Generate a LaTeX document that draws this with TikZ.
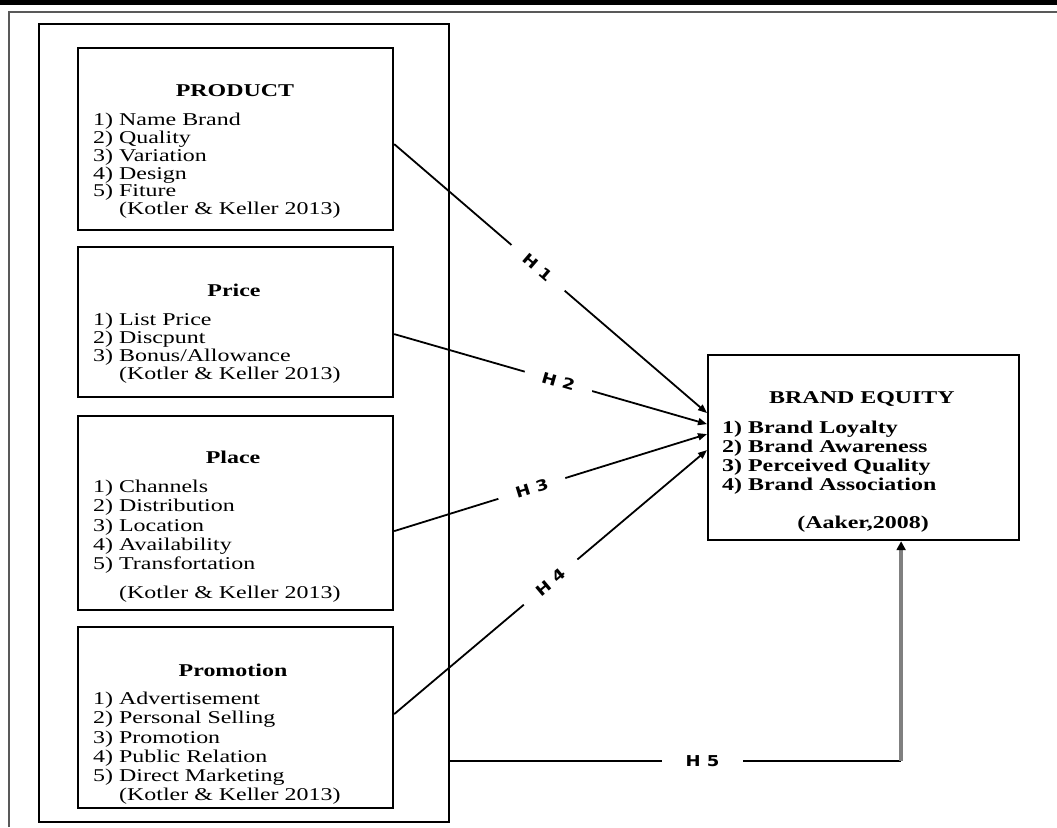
\documentclass[tikz,border=0pt]{standalone}
\usepackage{fontspec}
\setmainfont{Liberation Serif}[FakeStretch=1.33]
\newfontfamily\hfont{DejaVu Sans}[FakeStretch=1.2]
\usetikzlibrary{arrows.meta}
\tikzset{
	factor/.style={draw, line width=2.2pt, anchor=north west, inner sep=0pt, minimum width=315pt},
	heading/.style={anchor=base, inner sep=0pt, font=\bfseries\fontsize{18}{18}\selectfont},
	items/.style={anchor=north west, inner sep=0pt, align=left, font=\fontsize{18}{17.8}\selectfont},
	wideitems/.style={items, font=\fontsize{18}{19.2}\selectfont},
	line/.style={line width=1.8pt},
	link/.style={line, -{Triangle[length=9pt,width=7pt]}},
	hlabel/.style={sloped, fill=white, inner xsep=18pt, inner ysep=1pt, font=\hfont\bfseries\fontsize{15}{15}\selectfont},
}
\begin{document}
\begin{tikzpicture}[x=1pt, y=-1pt]
	\useasboundingbox (0,0) rectangle (1057,827);
	% page rule and outer frame
	\fill (0,0) rectangle (1057,5);
	\draw[line width=1.5pt, black!65] (9,827) -- (9,12) -- (1057,12);
	% marketing mix column
	\node[draw, line, anchor=north west, inner sep=0pt, minimum width=410pt, minimum height=798pt](mix) at (38,23) {};
	% product
	\node[factor, minimum height=182pt](product) at (77,47) {};
	\node[heading](producttitle) at (235,96) {PRODUCT};
	\node[items](productitems) at (93,113) {1) Name Brand\\2) Quality\\3) Variation\\4) Design\\5) Fiture\\\phantom{1) }(Kotler \& Keller 2013)};
	% price
	\node[factor, minimum height=150pt](price) at (77,246) {};
	\node[heading](pricetitle) at (234,296) {Price};
	\node[items](priceitems) at (93,313) {1) List Price\\2) Discpunt\\3) Bonus/Allowance\\\phantom{1) }(Kotler \& Keller 2013)};
	% place
	\node[factor, minimum height=194pt](place) at (77,415) {};
	\node[heading](placetitle) at (233,463) {Place};
	\node[wideitems](placeitems) at (93,480) {1) Channels\\2) Distribution\\3) Location\\4) Availability\\5) Transfortation\\[10pt]\phantom{1) }(Kotler \& Keller 2013)};
	% promotion
	\node[factor, minimum height=181pt](promotion) at (77,626) {};
	\node[heading](promotiontitle) at (233,676) {Promotion};
	\node[wideitems](promotionitems) at (93,692) {1) Advertisement\\2) Personal Selling\\3) Promotion\\4) Public Relation\\5) Direct Marketing\\\phantom{1) }(Kotler \& Keller 2013)};
	% brand equity
	\node[factor, minimum width=311pt, minimum height=185pt](equity) at (707,354) {};
	\node[heading](equitytitle) at (862,403) {BRAND EQUITY};
	\node[wideitems, font=\bfseries\fontsize{18}{19}\selectfont](equityitems) at (722,421) {1) Brand Loyalty\\2) Brand Awareness\\3) Perceived Quality\\4) Brand Association};
	\node[heading](aaker) at (863,528) {(Aaker,2008)};
	% hypotheses
	\draw[link] ([yshift=-5pt]product.east) -- node[hlabel, pos=0.46] {H 1} ([yshift=34.5pt]equity.west);
	\draw[link] ([yshift=-12pt]price.east) -- node[hlabel, pos=0.525] {H 2} ([yshift=23.5pt]equity.west);
	\draw[link] ([yshift=-18pt]place.east) -- node[hlabel, pos=0.44] {H 3} ([yshift=13.5pt]equity.west);
	\draw[link] ([yshift=3.5pt]promotion.east) -- node[hlabel, pos=0.5] {H 4} ([yshift=-2.5pt]equity.west);
	\coordinate(h5start) at ([yshift=-338pt]mix.east);
	\coordinate(h5corner) at ([xshift=37.5pt]equity.south |- h5start);
	\draw[line] (h5start) -- node[hlabel, pos=0.56, inner xsep=24pt] {H 5} (h5corner);
	\draw[line width=4pt, black!50, -{Triangle[length=9pt,width=9pt,color=black]}] (h5corner) -- ([xshift=37.5pt]equity.south);
\end{tikzpicture}
\end{document}
